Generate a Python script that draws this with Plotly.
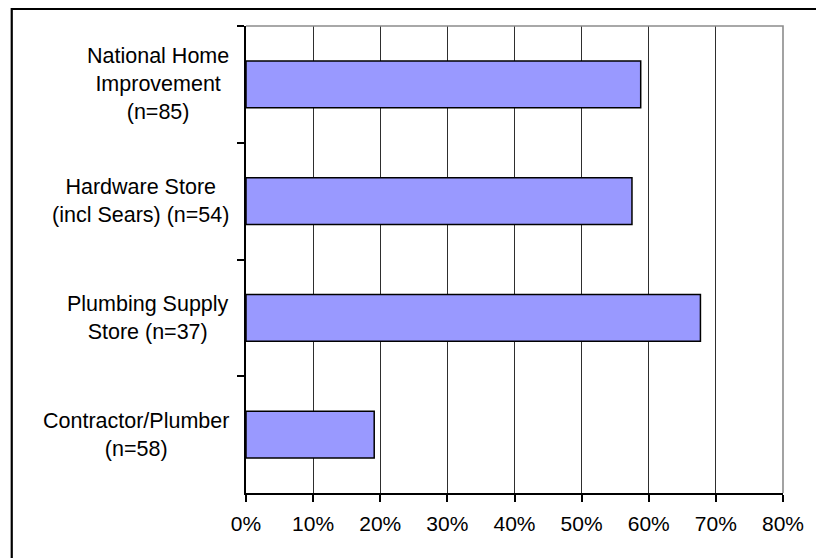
import plotly.graph_objects as go

# Share of respondents by place of purchase
categories = [
    "National Home<br>Improvement<br>(n=85)",
    "Hardware Store<br>(incl Sears) (n=54)",
    "Plumbing Supply<br>Store (n=37)",
    "Contractor/Plumber<br>(n=58)",
]
shares = [0.588, 0.575, 0.677, 0.191]
x_ticks = [0, 0.1, 0.2, 0.3, 0.4, 0.5, 0.6, 0.7, 0.8]

FONT = "Liberation Sans, Arial, sans-serif"
W, H = 816, 558
L, R, T, B = 246, 29, 26, 65
plot_w = W - L - R
plot_h = H - T - B

fig = go.Figure(
    go.Bar(
        x=shares,
        y=categories,
        orientation="h",
        width=0.4,
        marker=dict(color="#9999FF", line=dict(color="#000000", width=1.5)),
        hoverinfo="x+y",
    )
)

# Category labels: block right-aligned to the axis, lines centred within
annotations = [
    dict(
        x=0, xref="paper", y=c, yref="y",
        text=c, showarrow=False,
        xanchor="right", yanchor="middle", align="center",
        xshift=-15,
        font=dict(family=FONT, size=21.5, color="#000000"),
    )
    for c in categories
]

shapes = [
    # outer chart frame
    dict(type="rect", xref="paper", yref="paper",
         x0=(10 - L) / plot_w, x1=(W + 20 - L) / plot_w,
         y0=-0.3, y1=1 + (T - 9) / plot_h,
         line=dict(color="#000000", width=2.2), layer="below"),
    # plot-area top and right edges
    dict(type="path", xref="paper", yref="paper",
         path="M 0,1 L 1,1 L 1,0",
         line=dict(color="#8c8c8c", width=1.6), layer="above"),
]

fig.update_layout(
    width=W, height=H,
    margin=dict(l=L, r=R, t=T, b=B, pad=0),
    paper_bgcolor="#ffffff",
    plot_bgcolor="#ffffff",
    showlegend=False,
    bargap=0.6,
    font=dict(family=FONT, size=21, color="#000000"),
    xaxis=dict(
        range=[0, 0.8],
        tickvals=x_ticks,
        tickformat=".0%",
        showgrid=True, gridcolor="#2e2e2e", gridwidth=1,
        showline=True, linecolor="#000000", linewidth=1.5,
        ticks="outside", ticklen=7, tickcolor="#000000", tickwidth=1.5,
        ticklabelstandoff=4,
        tickfont=dict(family=FONT, size=21, color="#000000"),
        zeroline=False, fixedrange=True,
    ),
    yaxis=dict(
        type="category",
        categoryorder="array", categoryarray=categories,
        autorange="reversed",
        showticklabels=False,
        tickson="boundaries",
        ticks="outside", ticklen=7, tickcolor="#000000", tickwidth=1.5,
        showline=True, linecolor="#000000", linewidth=1.5,
        showgrid=False, zeroline=False, fixedrange=True,
    ),
    annotations=annotations,
    shapes=shapes,
)

fig.write_html("out.html")
